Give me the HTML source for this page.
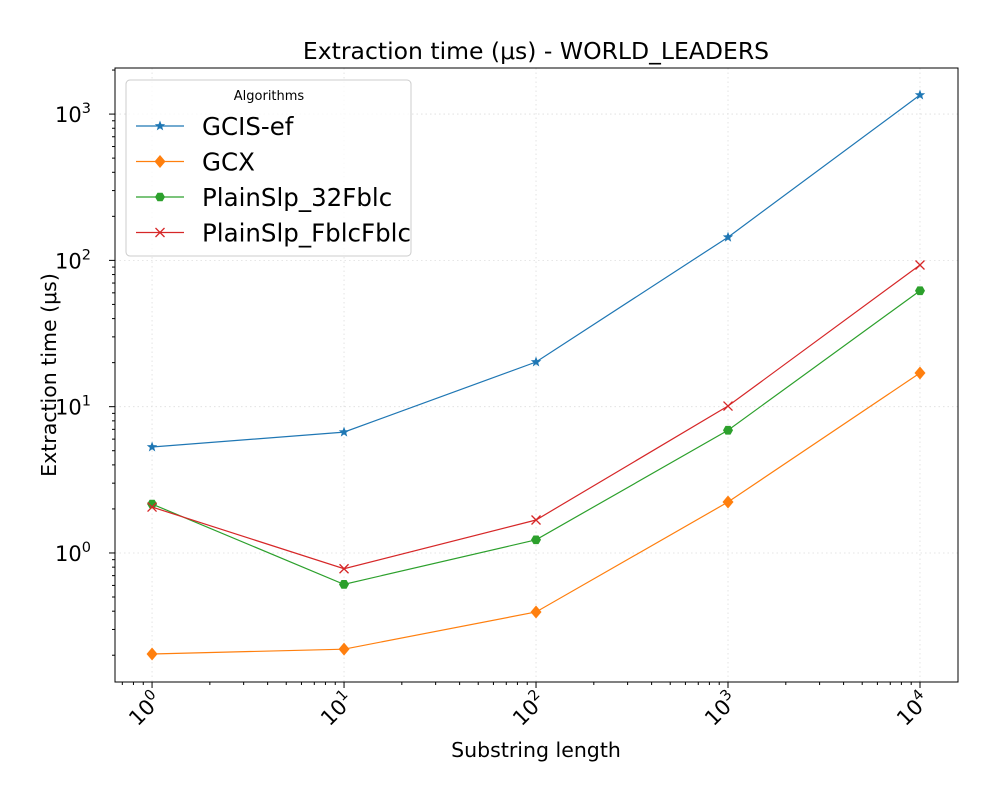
<!DOCTYPE html>
<html><head><meta charset="utf-8"><style>
body{margin:0;background:#fff;}
svg text{font-family:"DejaVu Sans","Liberation Sans",sans-serif;}
</style></head><body>
<svg id="chart" width="1000" height="800" xmlns="http://www.w3.org/2000/svg">
<rect width="1000" height="800" fill="#fff"/>
<g id="grid"></g>
<g id="ticks"></g>
<g id="series"></g>
<rect x="115" y="68" width="843" height="614" fill="none" stroke="#000" stroke-width="1"/>
<text x="536" y="59" font-size="23.5" text-anchor="middle">Extraction time (μs) - WORLD_LEADERS</text>
<text x="536" y="757" font-size="20.5" text-anchor="middle">Substring length</text>
<text x="56" y="375" font-size="20.5" text-anchor="middle" transform="rotate(-90 56 375)">Extraction time (μs)</text>
<g id="legend"></g>
</svg>
<script>
const categories=[1,10,100,1000,10000];
const seriesNames=["GCIS-ef","GCX","PlainSlp_32Fblc","PlainSlp_FblcFblc"];
const gcisEf=[5.3,6.7,20.2,144,1350];
const gcx=[0.204,0.22,0.395,2.23,17];
const plain32=[2.16,0.61,1.23,6.9,62];
const plainFblc=[2.06,0.78,1.68,10.1,93];
const xTickLabels=["0","1","2","3","4"];
const yTickLabels=["0","1","2","3"];

const NS="http://www.w3.org/2000/svg";
const L=115,R=958,T=68,B=682;
const xmin=-0.193,xmax=4.198,ymin=-0.882,ymax=3.315;
const xs=v=>L+(Math.log10(v)-xmin)/(xmax-xmin)*(R-L);
const ys=v=>B-(Math.log10(v)-ymin)/(ymax-ymin)*(B-T);
function mk(tag,attrs,parent){const e=document.createElementNS(NS,tag);for(const k in attrs)e.setAttribute(k,attrs[k]);parent.appendChild(e);return e;}
const grid=document.getElementById('grid'),ticks=document.getElementById('ticks'),ser=document.getElementById('series'),leg=document.getElementById('legend');
for(let d=-1;d<=4;d++){for(let m=1;m<10;m++){const v=m*Math.pow(10,d);const lv=Math.log10(v);if(lv<xmin||lv>xmax)continue;const x=xs(v);
 if(m===1){const g=mk('line',{x1:x,x2:x,y1:T,y2:B,stroke:'#ddd','stroke-dasharray':'1.5,3','stroke-width':0.8},grid);
  mk('line',{x1:x,x2:x,y1:B,y2:B+6,stroke:'#000'},ticks);
  const t=mk('text',{x:x-6,y:B+34,'font-size':21,'text-anchor':'middle',transform:`rotate(-45 ${x-6} ${B+28})`},ticks);
  t.innerHTML='10<tspan dy="-9" font-size="14.5">'+xTickLabels[d]+'</tspan>';
 } else mk('line',{x1:x,x2:x,y1:B,y2:B+3,stroke:'#000'},ticks);}}
for(let d=-1;d<=3;d++){for(let m=1;m<10;m++){const v=m*Math.pow(10,d);const lv=Math.log10(v);if(lv<ymin||lv>ymax)continue;const y=ys(v);
 if(m===1){const g=mk('line',{x1:L,x2:R,y1:y,y2:y,stroke:'#ddd','stroke-dasharray':'1.5,3','stroke-width':0.8},grid);
  mk('line',{x1:L-6,x2:L,y1:y,y2:y,stroke:'#000'},ticks);
  const t=mk('text',{x:L-24,y:y+8,'font-size':21,'text-anchor':'end'},ticks);
  t.innerHTML='10<tspan dy="-9" font-size="14.5">'+yTickLabels[d]+'</tspan>';
 } else mk('line',{x1:L-3,x2:L,y1:y,y2:y,stroke:'#000'},ticks);}}
const colors=['#1f77b4','#ff7f0e','#2ca02c','#d62728'];
const shapes=['star','diamond','hex','x'];
function marker(s,x,y,c,p){
 if(s==='star'){let pts=[];for(let i=0;i<10;i++){const r=i%2?2.3:5.5;const a=-Math.PI/2+i*Math.PI/5;pts.push((x+r*Math.cos(a)).toFixed(1)+','+(y+r*Math.sin(a)).toFixed(1));}return mk('polygon',{points:pts.join(' '),fill:c},p);}
 if(s==='diamond')return mk('polygon',{points:`${x},${y-6.5} ${x+5.5},${y} ${x},${y+6.5} ${x-5.5},${y}`,fill:c},p);
 if(s==='hex'){let pts=[];for(let i=0;i<6;i++){const a=i*Math.PI/3;pts.push((x+5*Math.cos(a)).toFixed(1)+','+(y+5*Math.sin(a)).toFixed(1));}return mk('polygon',{points:pts.join(' '),fill:c},p);}
 return mk('path',{d:`M${x-4.5},${y-4.5}L${x+4.5},${y+4.5}M${x-4.5},${y+4.5}L${x+4.5},${y-4.5}`,stroke:c,'stroke-width':1.3,fill:'none'},p);
}
[gcisEf,gcx,plain32,plainFblc].forEach((vals,i)=>{
 const g=mk('g',{},ser);
 const pts=vals.map((v,j)=>xs(categories[j])+','+ys(v)).join(' ');
 mk('polyline',{points:pts,fill:'none',stroke:colors[i],'stroke-width':1.2},g);
 vals.forEach((v,j)=>{const m=marker(shapes[i],xs(categories[j]),ys(v),colors[i],g);});
});
const lb=mk('rect',{x:126,y:80,width:285,height:176,rx:4,fill:'#fff','fill-opacity':0.8,stroke:'#ccc'},leg);

const lt=mk('text',{x:269,y:100,'font-size':13,'text-anchor':'middle'},leg);lt.textContent='Algorithms';

seriesNames.forEach((n,i)=>{const y=126+i*35.5;const g=mk('g',{},leg);
 mk('line',{x1:136,x2:184,y1:y,y2:y,stroke:colors[i],'stroke-width':1.2},g);marker(shapes[i],160,y,colors[i],g);
 const t=mk('text',{x:202,y:y+9,'font-size':24.5},g);t.textContent=n;});
</script>
</body></html>
